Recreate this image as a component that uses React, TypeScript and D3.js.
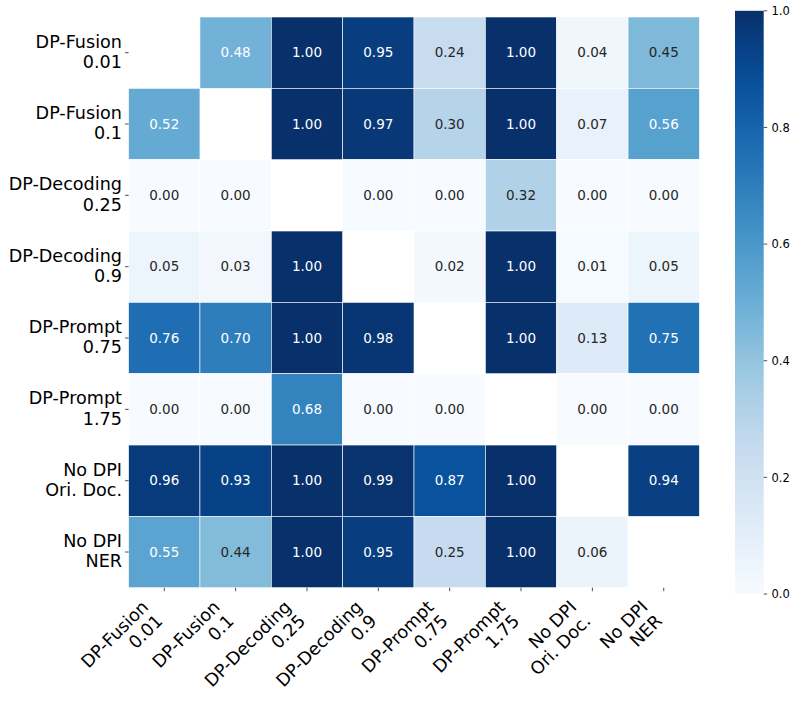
import React from "react";
import * as d3 from "d3";

const labels: string[][] = [
  ["DP-Fusion", "0.01"],
  ["DP-Fusion", "0.1"],
  ["DP-Decoding", "0.25"],
  ["DP-Decoding", "0.9"],
  ["DP-Prompt", "0.75"],
  ["DP-Prompt", "1.75"],
  ["No DPI", "Ori. Doc."],
  ["No DPI", "NER"],
];

const N = NaN;
const values: number[][] = [
  [N, 0.48, 1.0, 0.95, 0.24, 1.0, 0.04, 0.45],
  [0.52, N, 1.0, 0.97, 0.3, 1.0, 0.07, 0.56],
  [0.0, 0.0, N, 0.0, 0.0, 0.32, 0.0, 0.0],
  [0.05, 0.03, 1.0, N, 0.02, 1.0, 0.01, 0.05],
  [0.76, 0.7, 1.0, 0.98, N, 1.0, 0.13, 0.75],
  [0.0, 0.0, 0.68, 0.0, 0.0, N, 0.0, 0.0],
  [0.96, 0.93, 1.0, 0.99, 0.87, 1.0, N, 0.94],
  [0.55, 0.44, 1.0, 0.95, 0.25, 1.0, 0.06, N],
];

const colorbarTicks = [0, 0.2, 0.4, 0.6, 0.8, 1.0];

const bluesStops = [
  "#f7fbff", "#deebf7", "#c6dbef", "#9ecae1", "#6baed6",
  "#4292c6", "#2171b5", "#08519c", "#08306b",
];

const W = 797;
const H = 710;
const left = 128.6;
const right = 699.4;
const top = 17;
const bottom = 587.7;
const cbX0 = 735;
const cbX1 = 763.7;
const cbTop = 10.8;
const cbBottom = 594;

const font = "DejaVu Sans, sans-serif";
const labelSize = 17.6;

const color = d3
  .scaleLinear<string>()
  .domain(bluesStops.map((_, i) => i / (bluesStops.length - 1)))
  .range(bluesStops)
  .interpolate(d3.interpolateRgb)
  .clamp(true);

function relLum(c: string): number {
  const rgb = d3.rgb(c);
  const f = (v: number) => {
    const x = v / 255;
    return x <= 0.03928 ? x / 12.92 : Math.pow((x + 0.055) / 1.055, 2.4);
  };
  return 0.2126 * f(rgb.r) + 0.7152 * f(rgb.g) + 0.0722 * f(rgb.b);
}

export default function App() {
  const idx = d3.range(labels.length);
  const x = d3.scaleBand<number>().domain(idx).range([left, right]);
  const y = d3.scaleBand<number>().domain(idx).range([top, bottom]);
  const cb = d3.scaleLinear().domain([0, 1]).range([cbBottom, cbTop]);
  const gradStops = d3.range(0, 1.0001, 0.05);

  return (
    <svg width={W} height={H} style={{ display: "block", position: "absolute", left: 0, top: 0 }} fontFamily={font}>
      <defs>
        <linearGradient id="cbgrad" x1="0" y1="1" x2="0" y2="0">
          {gradStops.map((s) => (
            <stop key={s} offset={s} stopColor={color(s)} />
          ))}
        </linearGradient>
      </defs>
      <rect width={W} height={H} fill="white" />
      {values.map((row, r) =>
        row.map((v, c) => {
          if (isNaN(v)) return null;
          const fill = color(v);
          const tc = relLum(fill) > 0.408 ? "#262626" : "#ffffff";
          const cx = x(c)! + x.bandwidth() / 2;
          const cy = y(r)! + y.bandwidth() / 2;
          return (
            <g key={`${r}-${c}`}>
              <rect
                x={x(c)}
                y={y(r)}
                width={x.bandwidth()}
                height={y.bandwidth()}
                fill={fill}
                stroke="white"
                strokeWidth={0.6}
              />
              <text x={cx} y={cy + 4.8} textAnchor="middle" fontSize={13.5} fill={tc}>
                {v.toFixed(2)}
              </text>
            </g>
          );
        })
      )}
      {/* y axis */}
      {idx.map((r) => {
        const cy = y(r)! + y.bandwidth() / 2;
        return (
          <g key={`y${r}`}>
            <line x1={left - 3.5} x2={left} y1={cy} y2={cy} stroke="#222" strokeWidth={0.8} />
            <text x={122} y={cy - 5} textAnchor="end" fontSize={labelSize} fill="#000">
              {labels[r][0]}
            </text>
            <text x={122} y={cy + 15.2} textAnchor="end" fontSize={labelSize} fill="#000">
              {labels[r][1]}
            </text>
          </g>
        );
      })}
      {/* x axis */}
      {idx.map((c) => {
        const cx = x(c)! + x.bandwidth() / 2;
        const ax = cx - 14.8;
        const ay = bottom + 20.3;
        return (
          <g key={`x${c}`}>
            <line x1={cx} x2={cx} y1={bottom} y2={bottom + 3.5} stroke="#222" strokeWidth={0.8} />
            <g transform={`translate(${ax},${ay}) rotate(-45)`}>
              <text x={0} y={0} textAnchor="end" fontSize={labelSize} fill="#000">
                {labels[c][0]}
              </text>
              <text x={0} y={20} textAnchor="end" fontSize={labelSize} fill="#000">
                {labels[c][1]}
              </text>
            </g>
          </g>
        );
      })}
      {/* colorbar */}
      <rect x={cbX0} y={cbTop} width={cbX1 - cbX0} height={cbBottom - cbTop} fill="url(#cbgrad)" />
      {colorbarTicks.map((t) => (
        <g key={`cb${t}`}>
          <line x1={cbX1} x2={cbX1 + 3.5} y1={cb(t)} y2={cb(t)} stroke="#222" strokeWidth={0.8} />
          <text x={771.5} y={cb(t) + 4.2} fontSize={11.5} fill="#000">
            {t.toFixed(1)}
          </text>
        </g>
      ))}
    </svg>
  );
}
